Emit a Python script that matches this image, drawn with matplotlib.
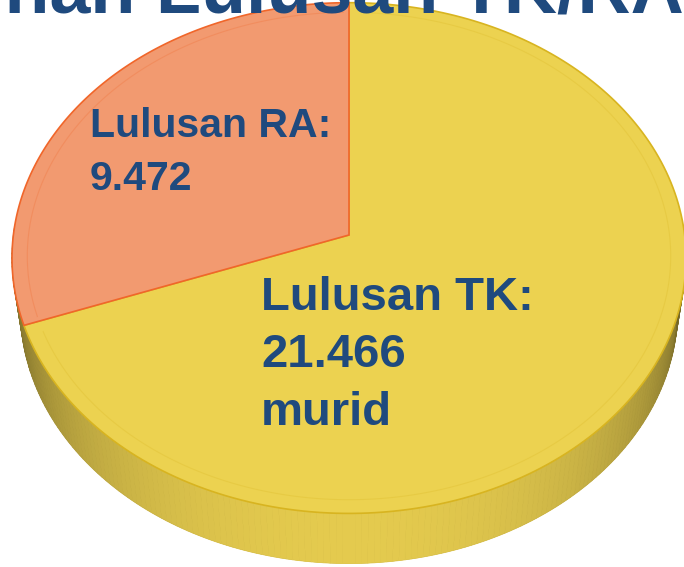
#!/usr/bin/env python3
"""
Pie 3D lulusan TK / RA, digambar manual dengan proyeksi perspektif.
"""

import numpy as np
import matplotlib.pyplot as plt
from matplotlib.patches import Polygon

plt.rcParams['font.family'] = ['Liberation Sans', 'DejaVu Sans']

# data
labels = ['Lulusan TK', 'Lulusan RA']
values = [21466, 9472]
unit = 'murid'
title = 'Pilihan Lulusan TK/RA'

top_colors = ['#ECD250', '#F29A70']
edge_colors = ['#D8B420', '#F0662A']
wall_color = np.array([228, 202, 78]) / 255
text_color = '#1F4A7E'

# kamera / proyeksi (pixel)
CX, CY = 349, 235
ALPHA = np.radians(49.0)
DIST = 7.27
FOCAL = 2440
THICK = 0.245


def project(theta_deg, r=1.0, h=0.0):
    th = np.radians(theta_deg)
    u = r * np.cos(th)
    v = r * np.sin(th)
    depth = DIST + v * np.cos(ALPHA) - h * np.sin(ALPHA)
    x = CX + FOCAL * u / depth
    y = CY - FOCAL * (v * np.sin(ALPHA) + h * np.cos(ALPHA)) / depth
    return x, y


fig = plt.figure(figsize=(6.84, 5.67), dpi=100)
ax = fig.add_axes([0, 0, 1, 1])
ax.set_xlim(0, 684)
ax.set_ylim(567, 0)
ax.axis('off')

# sudut slice: RA mulai jam 12, berlawanan jarum jam
total = sum(values)
span_ra = 360 * values[1] / total
start_ra, end_ra = 90, 90 + span_ra
start_tk, end_tk = end_ra, 90 + 360

# alas (gelap, hanya terlihat di pinggir)
full = np.linspace(0, 360, 361)
bx, by = project(full, 1.0, -THICK)
ax.add_patch(Polygon(np.column_stack([bx, by]), closed=True,
                     fc=wall_color * 0.4, ec='none', zorder=1))

# dinding samping dengan shading
ths = np.linspace(178, 362, 185)
for a0, a1 in zip(ths[:-1], ths[1:]):
    tx, ty = project(np.array([a0, a1]), 1.0, 0.0)
    bx2, by2 = project(np.array([a1, a0]), 1.0, -THICK)
    facing = max(0.0, -np.sin(np.radians((a0 + a1) / 2)))
    shade = 0.38 + 0.62 * facing ** 0.8
    col = np.clip(wall_color * shade, 0, 1)
    ax.add_patch(Polygon(np.column_stack([np.r_[tx, bx2], np.r_[ty, by2]]),
                         closed=True, fc=col, ec=col, lw=0.6, zorder=2))

# permukaan atas
for (a0, a1), fc, ec in zip([(start_tk, end_tk), (start_ra, end_ra)],
                            top_colors, edge_colors):
    arc = np.linspace(a0, a1, 200)
    ex, ey = project(arc)
    xs = np.r_[CX, ex]
    ys = np.r_[CY, ey]
    ax.add_patch(Polygon(np.column_stack([xs, ys]), closed=True,
                         fc=fc, ec=ec, lw=1.2, zorder=3))
    # garis bevel tipis di dalam tepi
    ix, iy = project(arc[2:-2], 0.955)
    ax.plot(ix, iy, color=ec, lw=0.8, alpha=0.25, zorder=4)


def fmt(v):
    return f'{v:,}'.replace(',', '.')


# label
ra_lines = [labels[1] + ':', fmt(values[1])]
for line, yb in zip(ra_lines, [137, 190]):
    ax.text(90, yb, line, fontsize=29.5, fontweight='bold', color=text_color,
            ha='left', va='baseline', zorder=5)

tk_lines = [labels[0] + ':', fmt(values[0]), unit]
for line, yb in zip(tk_lines, [310, 367, 425]):
    ax.text(261, yb, line, fontsize=34, fontweight='bold', color=text_color,
            ha='left', va='baseline', zorder=5)

# judul (terpotong di atas, seperti di slide asli)
ax.text(684, 13, title, fontsize=53, fontweight='bold', color=text_color,
        ha='right', va='baseline', zorder=6)

fig.savefig('out.png', dpi=100)
